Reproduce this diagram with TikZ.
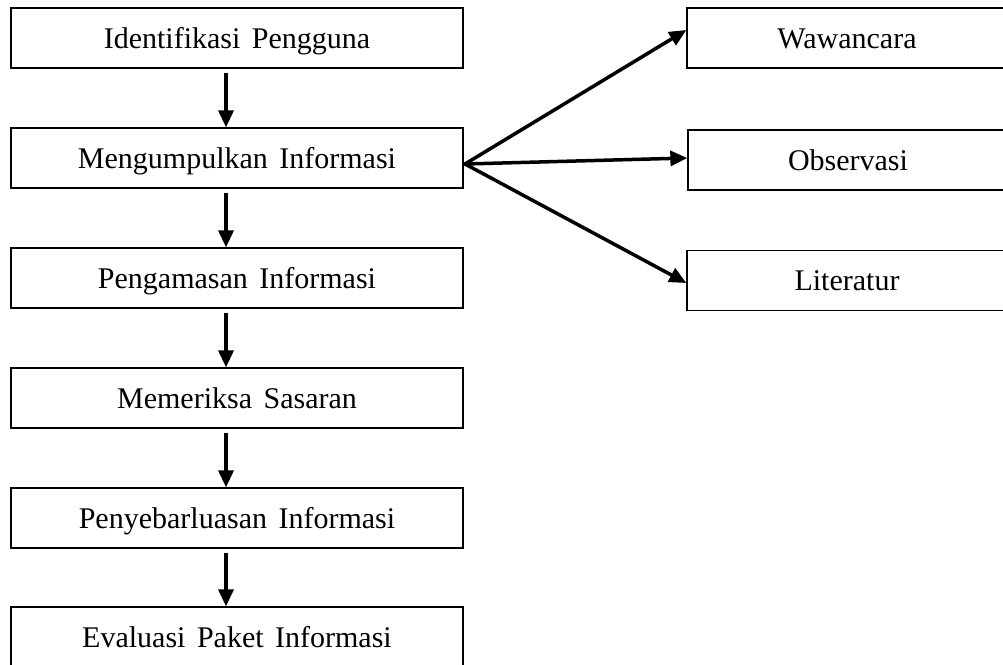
\documentclass[tikz,border=0pt]{standalone}
\usepackage{fontspec}
\setmainfont{Liberation Serif}
\usetikzlibrary{arrows.meta}
\begin{document}
\begin{tikzpicture}[x=1pt,y=-1pt,
  box/.style={draw, line width=1.3pt, minimum width=452pt, minimum height=60pt, inner sep=0pt, text height=24pt, text depth=4pt, font=\fontsize{30}{36}\selectfont},
  rbox/.style={box, minimum width=320pt},
  arr/.style={line width=3.5pt, -{Triangle[length=17pt,width=15pt]}}]
\useasboundingbox (0,0) rectangle (1003,664);
\node[box] (b1) at (237,38) {Identifikasi\hspace{4pt} Pengguna};
\node[box] (b2) at (237,158) {Mengumpulkan\hspace{4pt} Informasi};
\node[box] (b3) at (237,278) {Pengamasan\hspace{4pt} Informasi};
\node[box] (b4) at (237,398) {Memeriksa\hspace{4pt} Sasaran};
\node[box] (b5) at (237,518) {Penyebarluasan\hspace{4pt} Informasi};
\node[box] (b6) at (237,637) {Evaluasi\hspace{4pt} Paket\hspace{4pt} Informasi};
\node[rbox] (w) at (847,38) {Wawancara};
\node[rbox] (o) at (848,160) {Observasi};
\node[rbox] (l) at (847,280.5) {Literatur};
\coordinate (j) at (465,164);
\foreach \a/\b in {b1/b2,b2/b3,b3/b4,b4/b5,b5/b6}{
  \draw[arr, shorten <=4pt] ([xshift=-11pt]\a.south) -- ([xshift=-11pt]\b.north);
}
\draw[line width=3.5pt] ([yshift=-6pt]b2.east) -- (j);
\draw[arr] (j) -- ([yshift=8pt]w.west);
\draw[arr] (j) -- ([yshift=2pt]o.west);
\draw[arr] (j) -- ([yshift=-2.5pt]l.west);
\end{tikzpicture}
\end{document}
